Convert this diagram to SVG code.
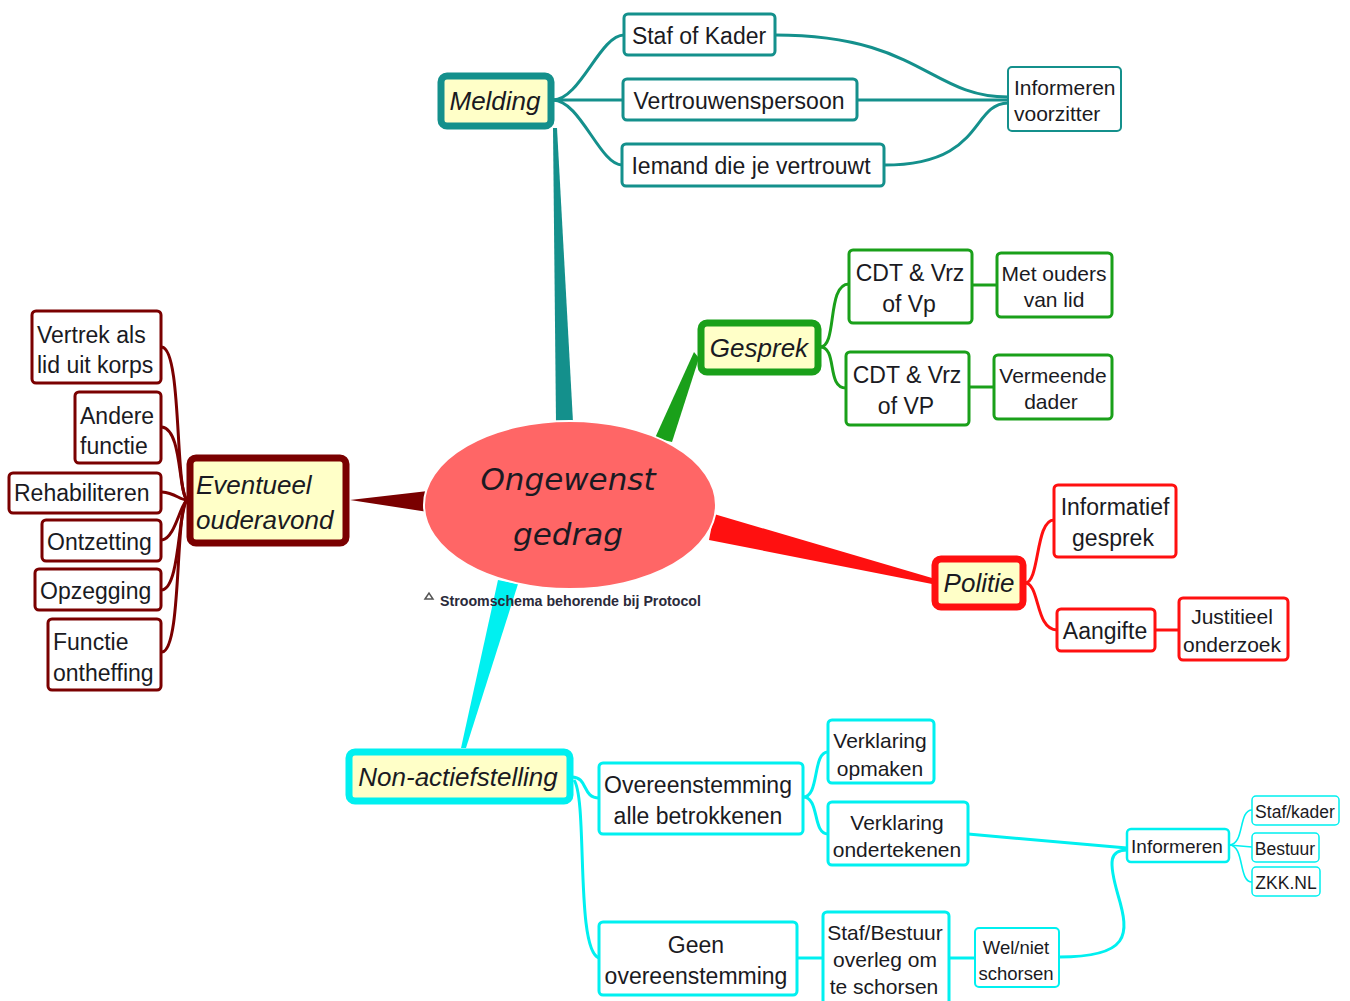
<svg xmlns="http://www.w3.org/2000/svg" width="1350" height="1001" viewBox="0 0 1350 1001">
<style>
text{font-family:"Liberation Sans",Arial,sans-serif;font-size:23px;fill:#1a1a22}
.c{text-anchor:middle}
.s21{font-size:21px}
.main{font-size:26px;font-style:italic}
.box{fill:#fff;stroke-width:3}
.mb{fill:#ffffc8;stroke-width:7}
.teal{stroke:#14908c}
.green{stroke:#1aa01a}
.red{stroke:#ff1010}
.dred{stroke:#7a0000}
.cyan{stroke:#00f0f0}
.ln{fill:none;stroke-width:3}
.thin{fill:none;stroke-width:1.6}
.hand{font-family:"Comic Sans MS","DejaVu Sans",cursive;font-size:31px;font-style:italic}
</style>
<rect width="1350" height="1001" fill="#fff"/>
<g id="connectors">
<polygon points="553,128 557,128 573,422 556,422" fill="#14908c"/>
<polygon points="694,352 699,358 672,442 655,438" fill="#1aa01a"/>
<polygon points="714,514 932,578 932,584 709,540" fill="#ff1010"/>
<polygon points="350,500 428,491 428,512" fill="#7a0000"/>
<polygon points="498,580 518,584 466,748 461,748" fill="#00f0f0"/>
<path class="ln teal" d="M553,100 C580,100 600,35 624,35"/>
<path class="ln teal" d="M553,100 L623,100"/>
<path class="ln teal" d="M553,100 C580,100 600,165 622,165"/>
<path class="ln teal" d="M775,35 C920,35 930,97 1008,97"/>
<path class="ln teal" d="M857,100 L1008,100"/>
<path class="ln teal" d="M884,165 C985,165 970,104 1008,103"/>
<path class="ln green" d="M820,347 C838,347 826,284 849,284"/>
<path class="ln green" d="M820,347 C838,347 826,388 846,388"/>
<path class="ln green" d="M972,285 L997,285"/>
<path class="ln green" d="M969,387 L994,387"/>
<path class="ln red" d="M1025,583 C1040,583 1035,520 1054,520"/>
<path class="ln red" d="M1025,583 C1040,583 1035,630 1057,630"/>
<path class="ln red" d="M1155,630 L1179,630"/>
<path class="ln dred" d="M162,347 C182,350 175,490 187,500"/>
<path class="ln dred" d="M162,427 C182,430 178,490 187,500"/>
<path class="ln dred" d="M162,492 C175,493 180,500 187,500"/>
<path class="ln dred" d="M162,540 C175,538 180,505 187,500"/>
<path class="ln dred" d="M162,590 C180,588 178,510 187,500"/>
<path class="ln dred" d="M162,652 C182,650 175,510 187,500"/>
<path class="ln cyan" d="M572,777 C588,777 582,798 599,798"/>
<path class="ln cyan" d="M574,780 C588,800 575,950 599,958"/>
<path class="ln cyan" d="M803,797 C820,797 812,752 828,752"/>
<path class="ln cyan" d="M803,797 C820,797 812,834 828,834"/>
<path class="ln cyan" d="M968,834 L1127,848"/>
<path class="ln cyan" d="M797,958 L823,958"/>
<path class="ln cyan" d="M949,958 L975,958"/>
<path class="ln cyan" d="M1059,957 C1130,957 1130,935 1118,895 C1108,860 1110,850 1127,850"/>
<path class="thin cyan" d="M1229,845 C1245,845 1238,810 1252,810"/>
<path class="thin cyan" d="M1229,845 L1252,847"/>
<path class="thin cyan" d="M1229,845 C1245,845 1238,882 1252,882"/>
</g>
<g id="center">
<ellipse cx="570" cy="505" rx="146" ry="84" fill="#ff6666" stroke="#fff" stroke-width="2"/>
<text class="c hand" x="568" y="490">Ongewenst</text>
<text class="c hand" x="568" y="545">gedrag</text>
</g>
<g id="caption">
<polygon points="425,599 429,593 433,599" fill="none" stroke="#555" stroke-width="1.5"/>
<text x="440" y="606" style="font-size:14.2px;font-weight:bold;fill:#2a2a3a">Stroomschema behorende bij Protocol</text>
</g>
<g id="melding">
<rect class="mb teal" x="441" y="76" width="110" height="50" rx="6"/>
<text class="main c" x="495" y="110">Melding</text>
</g>
<g id="staf-of-kader"><rect class="box teal" x="624" y="14" width="151" height="41" rx="4"/><text class="c" x="699" y="44">Staf of Kader</text></g>
<g id="vertrouwenspersoon"><rect class="box teal" x="623" y="79" width="234" height="41" rx="4"/><text class="c" x="739" y="109">Vertrouwenspersoon</text></g>
<g id="iemand"><rect class="box teal" x="622" y="144" width="262" height="42" rx="4"/><text class="c" x="751" y="174">Iemand die je vertrouwt</text></g>
<g id="informeren-voorzitter"><rect class="box teal" x="1008" y="67" width="113" height="64" rx="4" style="stroke-width:2"/><text class="s21" x="1014" y="95">Informeren</text><text class="s21" x="1014" y="121">voorzitter</text></g>

<g id="gesprek">
<rect class="mb green" x="701" y="323" width="117" height="49" rx="6"/>
<text class="main c" x="759" y="357">Gesprek</text>
</g>
<g id="cdt1"><rect class="box green" x="849" y="250" width="123" height="73" rx="4"/><text class="c" x="910" y="281">CDT &amp; Vrz</text><text class="c" x="909" y="312">of Vp</text></g>
<g id="cdt2"><rect class="box green" x="846" y="352" width="123" height="73" rx="4"/><text class="c" x="907" y="383">CDT &amp; Vrz</text><text class="c" x="906" y="414">of VP</text></g>
<g id="met-ouders"><rect class="box green" x="997" y="253" width="115" height="64" rx="4"/><text class="c s21" x="1054" y="281">Met ouders</text><text class="c s21" x="1054" y="307">van lid</text></g>
<g id="vermeende-dader"><rect class="box green" x="994" y="355" width="118" height="64" rx="4"/><text class="c s21" x="1053" y="383">Vermeende</text><text class="c s21" x="1051" y="409">dader</text></g>

<g id="politie">
<rect class="mb red" x="935" y="559" width="88" height="48" rx="6"/>
<text class="main c" x="979" y="592">Politie</text>
</g>
<g id="informatief"><rect class="box red" x="1054" y="485" width="122" height="72" rx="4"/><text class="c" x="1115" y="515">Informatief</text><text class="c" x="1113" y="546">gesprek</text></g>
<g id="aangifte"><rect class="box red" x="1057" y="609" width="98" height="42" rx="4"/><text class="c" x="1105" y="639">Aangifte</text></g>
<g id="justitieel"><rect class="box red" x="1179" y="598" width="109" height="62" rx="4"/><text class="c s21" x="1232" y="624">Justitieel</text><text class="c s21" x="1232" y="652">onderzoek</text></g>

<g id="eventueel">
<rect class="mb dred" x="190" y="458" width="156" height="85" rx="6"/>
<text class="main" x="196" y="494">Eventueel</text>
<text class="main" x="196" y="529">ouderavond</text>
</g>
<g id="vertrek"><rect class="box dred" x="32" y="311" width="129" height="72" rx="4"/><text x="37" y="343">Vertrek als</text><text x="37" y="373">lid uit korps</text></g>
<g id="andere"><rect class="box dred" x="75" y="392" width="86" height="71" rx="4"/><text x="80" y="424">Andere</text><text x="80" y="454">functie</text></g>
<g id="rehabiliteren"><rect class="box dred" x="9" y="473" width="152" height="40" rx="4"/><text x="14" y="501">Rehabiliteren</text></g>
<g id="ontzetting"><rect class="box dred" x="42" y="520" width="119" height="41" rx="4"/><text x="47" y="550">Ontzetting</text></g>
<g id="opzegging"><rect class="box dred" x="35" y="569" width="126" height="41" rx="4"/><text x="40" y="599">Opzegging</text></g>
<g id="functie-ontheffing"><rect class="box dred" x="48" y="619" width="113" height="71" rx="4"/><text x="53" y="650">Functie</text><text x="53" y="681">ontheffing</text></g>

<g id="non-actief">
<rect class="mb cyan" x="349" y="752" width="221" height="49" rx="6"/>
<text class="main c" x="458" y="786">Non-actiefstelling</text>
</g>
<g id="overeenstemming"><rect class="box cyan" x="599" y="763" width="204" height="71" rx="4"/><text class="c" x="698" y="793">Overeenstemming</text><text class="c" x="698" y="824">alle betrokkenen</text></g>
<g id="geen"><rect class="box cyan" x="599" y="922" width="198" height="73" rx="4"/><text class="c" x="696" y="953">Geen</text><text class="c" x="696" y="984">overeenstemming</text></g>
<g id="verklaring-opmaken"><rect class="box cyan" x="828" y="720" width="106" height="63" rx="4"/><text class="c s21" x="880" y="748">Verklaring</text><text class="c s21" x="880" y="776">opmaken</text></g>
<g id="verklaring-ondertekenen"><rect class="box cyan" x="828" y="802" width="140" height="63" rx="4"/><text class="c s21" x="897" y="830">Verklaring</text><text class="c s21" x="897" y="857">ondertekenen</text></g>
<g id="staf-bestuur"><rect class="box cyan" x="823" y="912" width="126" height="95" rx="4"/><text class="c s21" x="885" y="940">Staf/Bestuur</text><text class="c s21" x="885" y="967">overleg om</text><text class="c s21" x="884" y="994">te schorsen</text></g>
<g id="wel-niet"><rect class="box cyan" x="975" y="928" width="84" height="59" rx="4" style="stroke-width:2"/><text class="c" x="1016" y="954" style="font-size:18.5px">Wel/niet</text><text class="c" x="1016" y="980" style="font-size:18.5px">schorsen</text></g>
<g id="informeren"><rect class="box cyan" x="1127" y="829" width="102" height="33" rx="4" style="stroke-width:2.5"/><text class="c" x="1177" y="853" style="font-size:19px">Informeren</text></g>
<g id="staf-kader"><rect class="box cyan" x="1252" y="796" width="87" height="29" rx="4" style="stroke-width:1.5"/><text class="c" x="1295" y="818" style="font-size:17.5px">Staf/kader</text></g>
<g id="bestuur"><rect class="box cyan" x="1252" y="833" width="67" height="29" rx="4" style="stroke-width:1.5"/><text class="c" x="1285" y="855" style="font-size:17.5px">Bestuur</text></g>
<g id="zkk"><rect class="box cyan" x="1252" y="867" width="68" height="29" rx="4" style="stroke-width:1.5"/><text class="c" x="1286" y="889" style="font-size:17.5px">ZKK.NL</text></g>
</svg>
